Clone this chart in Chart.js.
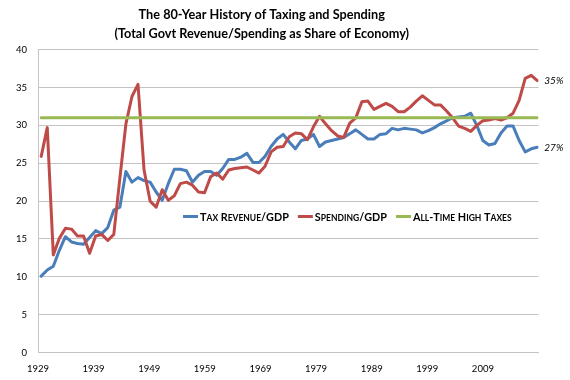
<!DOCTYPE html>
<html><head><meta charset="utf-8">
<script src="https://cdn.jsdelivr.net/npm/chart.js@4.4.1/dist/chart.umd.min.js"></script>
<style>html,body{margin:0;padding:0;background:#fff}canvas{display:block}</style>
</head><body>
<canvas id="c" width="570" height="380"></canvas>
<script>
// ---- data ----
const years = [1929,1930,1931,1932,1933,1934,1935,1936,1937,1938,1939,1940,1941,1942,1943,1944,1945,1946,1947,1948,
  1949,1950,1951,1952,1953,1954,1955,1956,1957,1958,1959,1960,1961,1962,1963,1964,1965,1966,1967,1968,
  1969,1970,1971,1972,1973,1974,1975,1976,1977,1978,1979,1980,1981,1982,1983,1984,1985,1986,1987,1988,
  1989,1990,1991,1992,1993,1994,1995,1996,1997,1998,1999,2000,2001,2002,2003,2004,2005,2006,2007,2008,
  2009,2010,2011];
const taxRevenue = [10.1,10.9,11.4,13.5,15.3,14.6,14.4,14.3,15.2,16.1,
  15.7,16.5,18.8,19.2,23.9,22.5,23.1,22.7,22.5,21.2,
  20.1,22.3,24.2,24.2,24.0,22.5,23.4,23.9,23.9,23.4,
  24.3,25.5,25.5,25.8,26.3,25.1,25.1,25.9,27.2,28.2,
  28.8,27.8,26.9,28.0,28.2,28.8,27.2,27.8,28.0,28.2,
  28.4,28.9,29.4,28.8,28.2,28.2,28.8,28.9,29.6,29.4,
  29.6,29.5,29.4,29.0,29.3,29.7,30.2,30.6,31.0,31.1,
  31.2,31.6,30.0,28.0,27.4,27.6,29.0,29.9,29.9,28.0,
  26.5,26.9,27.1];
const spending = [25.9,29.7,12.9,15.1,16.4,16.3,15.4,15.4,13.1,15.4,
  15.6,14.8,15.6,23.0,30.2,33.8,35.4,24.1,20.0,19.2,
  21.5,20.1,20.7,22.3,22.5,22.1,21.2,21.1,23.2,23.7,
  22.9,24.1,24.3,24.4,24.5,24.1,23.7,24.6,26.5,27.1,
  27.2,28.5,29.0,28.9,28.1,29.8,31.2,30.2,29.3,28.6,
  28.4,30.3,31.0,33.1,33.2,32.1,32.5,32.9,32.5,31.8,
  31.8,32.4,33.2,33.9,33.3,32.7,32.7,31.9,31.0,29.9,
  29.6,29.2,30.0,30.6,30.7,30.9,30.7,31.0,31.6,33.3,
  36.2,36.6,35.9];
const allTimeHighTaxes = 31.0;
const xTickLabels = ['1929','1939','1949','1959','1969','1979','1989','1999','2009'];
const seriesNames = ['Tax Revenue/GDP','Spending/GDP','All-Time High Taxes'];
const titleLines = ['The 80-Year History of Taxing and Spending','(Total Govt Revenue/Spending as Share of Economy)'];

// ---- styling ----
const FONT = 'Lato, "Liberation Sans", sans-serif';
const LEGEND_FONT = '"Liberation Sans Narrow", Lato, sans-serif';
const COLORS = ['#4A7EBB', '#BE4B48', '#98B954'];
const GRID = '#C4C4C4';

function smallCaps(ctx, text, x, y, o, draw) {
  let w = 0;
  for (const ch of text) {
    const lower = ch !== ch.toUpperCase();
    ctx.font = `${o.weight} ${lower ? o.small : o.big}px ${o.family}`;
    const c = lower ? ch.toUpperCase() : ch;
    if (draw) ctx.fillText(c, x + w, y);
    w += ctx.measureText(c).width;
  }
  return w;
}

const insideLegend = {
  id: 'insideLegend',
  afterDraw(chart, args, o) {
    const ctx = chart.ctx;
    ctx.save();
    ctx.textBaseline = 'alphabetic';
    ctx.textAlign = 'left';
    ctx.fillStyle = o.color;
    let x = o.x;
    chart.data.datasets.forEach(ds => {
      ctx.strokeStyle = ds.borderColor;
      ctx.lineWidth = 3;
      ctx.lineCap = 'butt';
      ctx.beginPath(); ctx.moveTo(x, o.y); ctx.lineTo(x + o.sample, o.y); ctx.stroke();
      x += o.sample + o.gap;
      x += smallCaps(ctx, ds.label, x, o.y + o.baseline, o, true) + o.itemGap;
    });
    ctx.restore();
  }
};

const endLabels = {
  id: 'endLabels',
  afterDatasetsDraw(chart, args, o) {
    const ctx = chart.ctx;
    ctx.save();
    ctx.font = `italic ${o.size}px ${FONT}`;
    ctx.fillStyle = o.color;
    ctx.textBaseline = 'middle';
    ctx.textAlign = 'left';
    chart.data.datasets.forEach((ds, i) => {
      if (!ds.endLabel) return;
      const meta = chart.getDatasetMeta(i);
      const pt = meta.data[meta.data.length - 1];
      const v = ds.data[ds.data.length - 1];
      ctx.fillText(Math.floor(v) + '%', pt.x + o.offset, pt.y);
    });
    ctx.restore();
  }
};

const titleShift = {
  id: 'titleShift',
  afterLayout(chart, args, o) {
    if (chart.titleBlock) { chart.titleBlock.left += o.dx; chart.titleBlock.right += o.dx; }
  }
};

new Chart(document.getElementById('c'), {
  type: 'line',
  data: {
    labels: years,
    datasets: [
      { label: seriesNames[0], data: taxRevenue, borderColor: COLORS[0], order: 2, endLabel: true },
      { label: seriesNames[1], data: spending, borderColor: COLORS[1], order: 1, endLabel: true },
      { label: seriesNames[2], data: years.map(() => allTimeHighTaxes), borderColor: COLORS[2], order: 0 }
    ].map(d => Object.assign({ borderWidth: 3, pointRadius: 0, tension: 0, fill: false,
      borderJoinStyle: 'round', borderCapStyle: 'round', xAxisID: 'x', yAxisID: 'y' }, d))
  },
  options: {
    responsive: false,
    animation: false,
    devicePixelRatio: 1,
    layout: { padding: { left: 0, right: 31.5, top: 0, bottom: 0 } },
    scales: {
      x: { type: 'linear', display: false, min: years[0] - 0.53, max: years[years.length - 1] + 0.2,
        afterFit: s => { s.height = 0; } },
      xt: {
        type: 'linear', position: 'bottom', min: 1929, max: 2019,
        afterBuildTicks: s => { s.ticks = xTickLabels.map(l => ({ value: Number(l) })); },
        afterFit: s => { s.height = 27.4; },
        ticks: { autoSkip: false, maxRotation: 0, padding: 11, color: '#000',
          font: { family: FONT, size: 9.5 }, callback: (v, i) => xTickLabels[i] },
        grid: { display: false, drawTicks: false },
        border: { display: true, color: GRID, width: 1 }
      },
      y: {
        min: 0, max: 40,
        afterFit: s => { s.width = 38; },
        ticks: { stepSize: 5, padding: 11, color: '#000', font: { family: FONT, size: 9.5 } },
        grid: { color: GRID, lineWidth: 1, drawTicks: false },
        border: { display: true, color: GRID, width: 1 }
      }
    },
    plugins: {
      legend: { display: false },
      tooltip: { enabled: false },
      title: {
        display: true, text: titleLines, color: '#000',
        font: { family: FONT, size: 12.7, weight: 'bold', lineHeight: 1.44 },
        padding: { top: 6, bottom: 7 }
      },
      titleShift: { dx: -7.5 },
      insideLegend: { x: 183, y: 216.5, sample: 15, gap: 2, itemGap: 9, baseline: 4,
        big: 10.8, small: 8.5, weight: 'bold', family: LEGEND_FONT, color: '#000' },
      endLabels: { size: 10, color: '#000', offset: 7 }
    }
  },
  plugins: [titleShift, insideLegend, endLabels]
});
</script>
</body></html>
